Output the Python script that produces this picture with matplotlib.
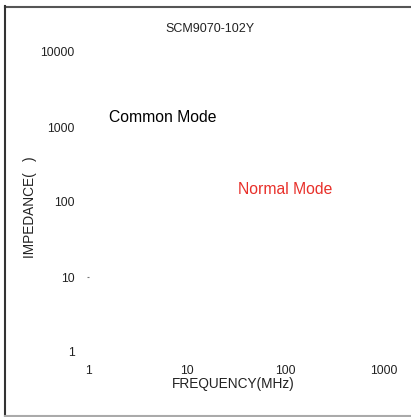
import numpy as np
import matplotlib
matplotlib.use("Agg")
import matplotlib.pyplot as plt
from matplotlib.lines import Line2D

plt.rcParams['font.family'] = ['Liberation Sans', 'DejaVu Sans']

title = "SCM9070-102Y"
x_ticks = [1, 10, 100, 1000]
y_ticks = [1, 10, 100, 1000, 10000]
x_label = "FREQUENCY(MHz)"
y_label = "IMPEDANCE(   )"
point_x = [1]
point_y = [10]

W, H = 411, 417
fig = plt.figure(figsize=(W / 100, H / 100), dpi=100)
ax = fig.add_axes([88 / W, (H - 352) / H, (384 - 88) / W, 300 / H])
ax.set_xscale('log')
ax.set_yscale('log')
ax.set_xlim(1, 1000)
ax.set_ylim(1, 10000)
ax.set_xticks(x_ticks)
ax.set_xticklabels([str(v) for v in x_ticks], fontsize=8.7, color='#222222')
ax.set_yticks(y_ticks)
ax.set_yticklabels([str(v) for v in y_ticks], fontsize=8.8, color='#222222')
ax.minorticks_off()
ax.tick_params(axis='x', length=0, pad=9.5)
ax.tick_params(axis='y', length=0, pad=9.5)
for s in ax.spines.values():
    s.set_visible(False)

# stray tick-like mark near 10
ax.plot(point_x, point_y, marker='_', markersize=1.8, markeredgewidth=0.8,
        color='#777777', lw=0, clip_on=False)

ax.text(1.63, 1350, "Common Mode", fontsize=11.3, color='black', va='center', ha='left')
ax.text(33, 148, "Normal Mode", fontsize=11.3, color='#e8302a', va='center', ha='left')

fig.text(210 / W, 1 - 28.5 / H, title, fontsize=9, ha='center', va='center', color='#222222')
fig.text(233 / W, 1 - 384 / H, x_label, fontsize=9.8, ha='center', va='center', color='#222222')
fig.text(30 / W, 1 - 207 / H, y_label, fontsize=9.8, ha='center', va='center', rotation=90, color='#222222')

# frame
fig.add_artist(Line2D([5 / W, 1], [1 - 6.5 / H, 1 - 6.5 / H], color='#555555', lw=1.5))
fig.add_artist(Line2D([5 / W, 5 / W], [1 - 6 / H, 1 - 415.5 / H], color='#333333', lw=1.5))
fig.add_artist(Line2D([5 / W, 1], [1 - 415.5 / H, 1 - 415.5 / H], color='#aaaaaa', lw=1.5))

fig.savefig("out.png", dpi=100)
